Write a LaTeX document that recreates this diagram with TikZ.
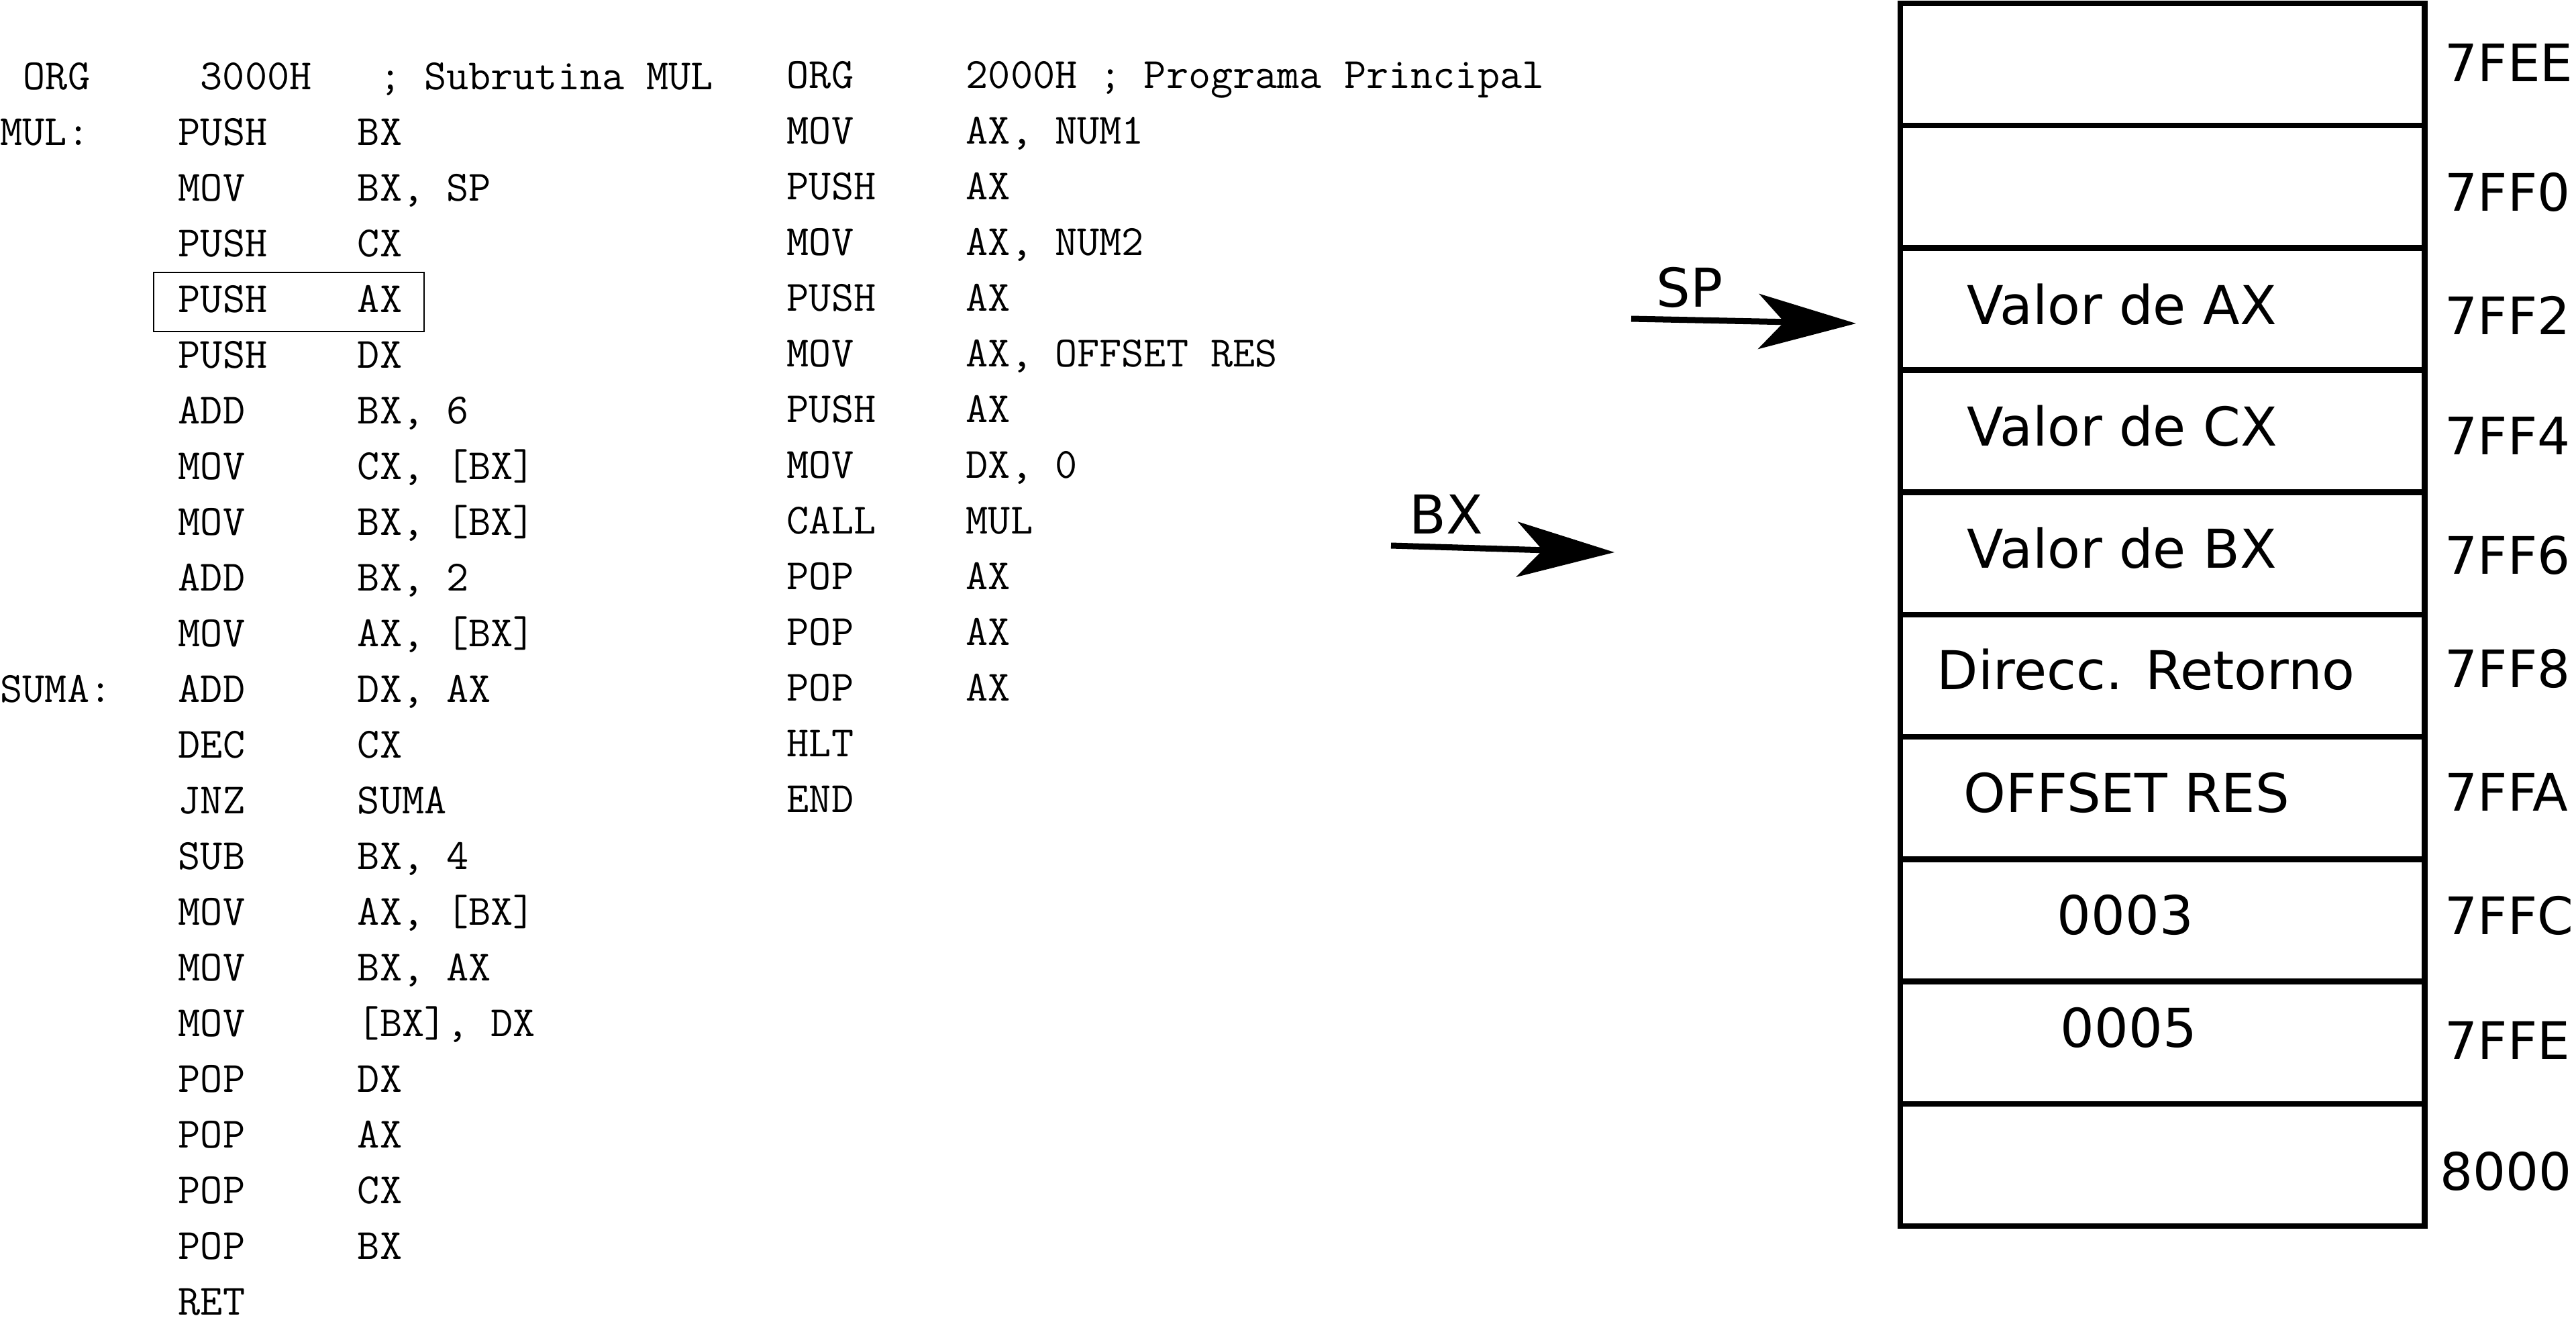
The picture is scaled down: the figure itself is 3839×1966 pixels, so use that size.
\documentclass[tikz,border=0pt]{standalone}
\usepackage{fontspec}
\setsansfont{DejaVu Sans}
\usetikzlibrary{arrows.meta,positioning}
\newcommand{\lbl}[1]{\makebox[2.65cm][l]{#1}}
\newcommand{\instr}[2]{\makebox[2.67cm][l]{#1}#2}

\begin{document}
\begin{tikzpicture}[
    x=0.01cm, y=-0.01cm,
    code/.style={anchor=base west, inner sep=0pt, align=left,
                 font=\fontsize{18.3pt}{23.6pt}\selectfont\ttfamily},
    cell/.style={draw, line width=0.085cm, minimum width=7.81cm,
                 minimum height=1.821cm, inner sep=0pt, outer sep=0pt},
    stxt/.style={anchor=base west, inner sep=0pt,
                 font=\fontsize{22.7pt}{27pt}\selectfont\sffamily},
    addr/.style={stxt, font=\fontsize{21.9pt}{26pt}\selectfont\sffamily},
    hilite/.style={draw, line width=0.025cm, minimum width=4.03cm,
                   minimum height=0.88cm, inner sep=0pt},
    ptr/.style={-{Stealth[length=1.45cm, width=0.82cm, inset=0.38cm]},
                line width=0.09cm},
]
\useasboundingbox (0,0) rectangle (3839,1966);
\node[code] (mul) at (0,1959.4) {%
\makebox[2.98cm][l]{\hspace*{0.34cm}ORG}\makebox[2.67cm][l]{3000H}; Subrutina MUL\\
\lbl{MUL:}\instr{PUSH}{BX}\\
\lbl{}\instr{MOV}{BX, SP}\\
\lbl{}\instr{PUSH}{CX}\\
\lbl{}\instr{PUSH}{AX}\\
\lbl{}\instr{PUSH}{DX}\\
\lbl{}\instr{ADD}{BX, 6}\\
\lbl{}\instr{MOV}{CX, [BX]}\\
\lbl{}\instr{MOV}{BX, [BX]}\\
\lbl{}\instr{ADD}{BX, 2}\\
\lbl{}\instr{MOV}{AX, [BX]}\\
\lbl{SUMA:}\instr{ADD}{DX, AX}\\
\lbl{}\instr{DEC}{CX}\\
\lbl{}\instr{JNZ}{SUMA}\\
\lbl{}\instr{SUB}{BX, 4}\\
\lbl{}\instr{MOV}{AX, [BX]}\\
\lbl{}\instr{MOV}{BX, AX}\\
\lbl{}\instr{MOV}{[BX], DX}\\
\lbl{}\instr{POP}{DX}\\
\lbl{}\instr{POP}{AX}\\
\lbl{}\instr{POP}{CX}\\
\lbl{}\instr{POP}{BX}\\
\lbl{}\instr{RET}{}};
\node[hilite] (hl) at (430.5,450) {};
\node[code] (main) at (1172,1210.6) {%
\instr{ORG}{2000H ; Programa Principal}\\
\instr{MOV}{AX, NUM1}\\
\instr{PUSH}{AX}\\
\instr{MOV}{AX, NUM2}\\
\instr{PUSH}{AX}\\
\instr{MOV}{AX, OFFSET RES}\\
\instr{PUSH}{AX}\\
\instr{MOV}{DX, 0}\\
\instr{CALL}{MUL}\\
\instr{POP}{AX}\\
\instr{POP}{AX}\\
\instr{POP}{AX}\\
\instr{HLT}{}\\
\instr{END}{}};
\node[cell] (c1) at (3222.5,96) {};
\node[cell, below=0pt of c1] (c2) {};
\node[cell, below=0pt of c2] (c3) {};
\node[cell, below=0pt of c3] (c4) {};
\node[cell, below=0pt of c4] (c5) {};
\node[cell, below=0pt of c5] (c6) {};
\node[cell, below=0pt of c6] (c7) {};
\node[cell, below=0pt of c7] (c8) {};
\node[cell, below=0pt of c8] (c9) {};
\node[cell, below=0pt of c9] (c10) {};
\node[stxt] (vax) at (2931,483) {Valor de AX};
\node[stxt] (vcx) at (2931,664) {Valor de CX};
\node[stxt] (vbx) at (2931,846) {Valor de BX};
\node[stxt] (ret) at (2886,1027) {Direcc. Retorno};
\node[stxt] (res) at (2926,1210) {OFFSET RES};
\node[stxt] (nb) at (3065,1392) {0003};
\node[stxt] (na) at (3070,1560) {0005};
\node[addr] (a1) at (3643,121) {7FEE};
\node[addr] (a2) at (3643,314) {7FF0};
\node[addr] (a3) at (3643,498) {7FF2};
\node[addr] (a4) at (3643,677) {7FF4};
\node[addr] (a5) at (3643,855) {7FF6};
\node[addr] (a6) at (3643,1024) {7FF8};
\node[addr] (a7) at (3643,1208) {7FFA};
\node[addr] (a8) at (3643,1392) {7FFC};
\node[addr] (a9) at (3643,1578) {7FFE};
\node[addr] (a10) at (3636,1773) {8000};
\node[stxt] (splbl) at (2468,457) {SP};
\node[stxt] (bxlbl) at (2100,795) {BX};
\coordinate (spfrom) at (2431,475);
\coordinate (spto) at (2766,482);
\coordinate (bxfrom) at (2073,813);
\coordinate (bxto) at (2406,823);
\draw[ptr] (spfrom) -- (spto);
\draw[ptr] (bxfrom) -- (bxto);
\end{tikzpicture}
\end{document}
